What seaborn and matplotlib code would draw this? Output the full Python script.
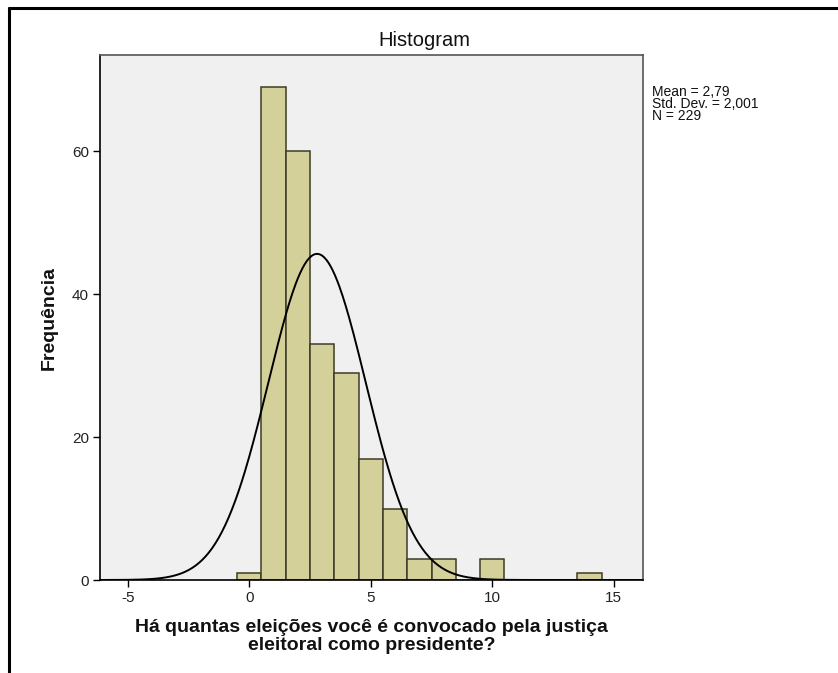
import numpy as np
import pandas as pd
import matplotlib
matplotlib.use("Agg")
import matplotlib.pyplot as plt
import seaborn as sns
from matplotlib.lines import Line2D

# Data
values = [0, 1, 2, 3, 4, 5, 6, 7, 8, 10, 14]
counts = [1, 69, 60, 33, 29, 17, 10, 3, 3, 3, 1]
x_ticks = [-5, 0, 5, 10, 15]
y_ticks = [0, 20, 40, 60]
mean_val = 2.79
std_val = 2.001
n_val = 229

sns.set_theme(style="white")
plt.rcParams['font.family'] = ['Liberation Sans', 'DejaVu Sans']
plt.rcParams['axes.unicode_minus'] = False

fig = plt.figure(figsize=(8.38, 6.73), dpi=100)
ax = fig.add_axes([100/838, 1 - 580/673, 543/838, 525/673])
ax.set_facecolor('#F0F0F0')

df = pd.DataFrame({"v": np.array(values, dtype=float), "c": np.array(counts, dtype=float)})
sns.histplot(data=df, x="v", weights="c", binwidth=1, binrange=(-0.5, 14.5),
             color='#D4D09A', edgecolor='#3C3C28', linewidth=1.1, alpha=1.0, ax=ax)

xs = np.linspace(-6.14, 16.2, 500)
pdf = n_val * 1.0 / (std_val * np.sqrt(2 * np.pi)) * np.exp(-0.5 * ((xs - mean_val) / std_val) ** 2)
ax.plot(xs, pdf, color='black', linewidth=1.4)

ax.set_xlim(-6.14, 16.2)
ax.set_ylim(0, 73.5)
ax.set_xticks(x_ticks)
ax.set_yticks(y_ticks)
ax.tick_params(axis='both', direction='out', length=5, width=1, color='black',
               labelsize=11, labelcolor='#222222', bottom=True, left=True, pad=3)
for s in ['left', 'bottom']:
    ax.spines[s].set_color('black')
    ax.spines[s].set_linewidth(1.2)
for s in ['top', 'right']:
    ax.spines[s].set_color('#555555')
    ax.spines[s].set_linewidth(1.2)

ax.set_xlabel("Há quantas eleições você é convocado pela justiça\neleitoral como presidente?",
              fontsize=14, fontweight='bold', color='#111111', labelpad=10, linespacing=1.05)
ax.set_ylabel("Frequência", fontsize=14, fontweight='bold', color='#111111', labelpad=10)

fig.text(424/838, 1 - 40/673, "Histogram", ha='center', va='center', fontsize=14.5, color='#111111')
fig.text(652/838, 1 - 85/673, f"Mean = 2,79\nStd. Dev. = 2,001\nN = {n_val}",
         ha='left', va='top', fontsize=10, color='#111111', linespacing=0.8)

# outer frame lines (left and top)
fig.add_artist(Line2D([9/838, 9/838], [0, 1 - 8/673], transform=fig.transFigure, color='black', linewidth=2.2))
fig.add_artist(Line2D([9/838, 1], [1 - 8/673, 1 - 8/673], transform=fig.transFigure, color='black', linewidth=2.2))

fig.savefig("out.png", dpi=100)
